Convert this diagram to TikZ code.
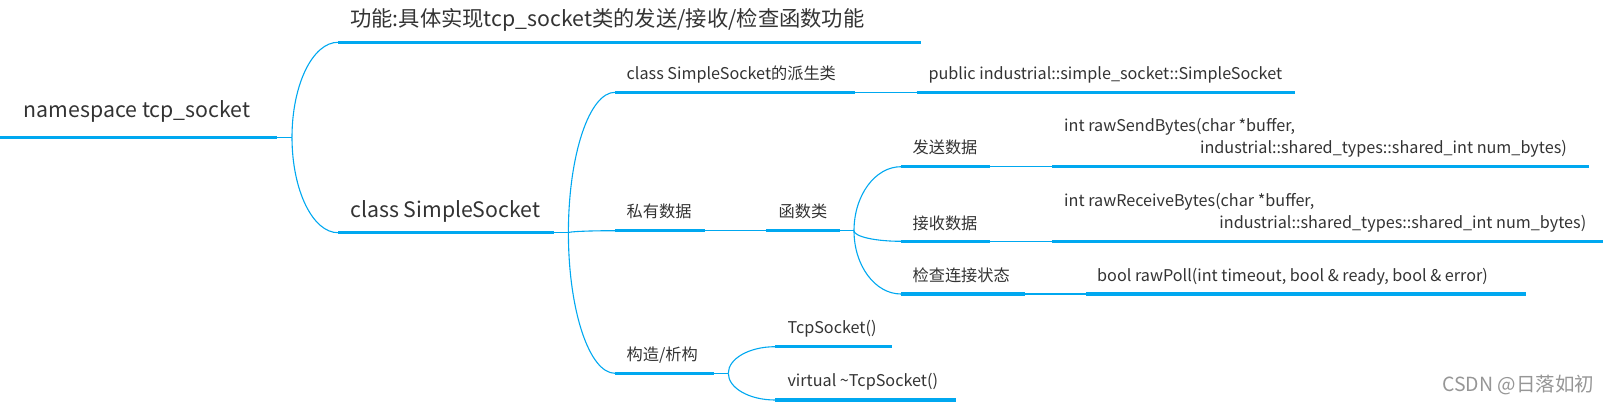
\documentclass[tikz,border=0pt]{standalone}
\usepackage{fontspec}
\setmainfont{Noto Sans CJK SC}
\usetikzlibrary{calc}
\definecolor{mblue}{RGB}{0,168,240}
\definecolor{tcol}{RGB}{51,51,51}
\definecolor{wmark}{RGB}{150,150,150}
\begin{document}
\begin{tikzpicture}[x=1pt,y=-1pt,
  ul/.style={line width=3.4pt, draw=mblue},
  conn/.style={line width=1.1pt, draw=mblue},
  bigtxt/.style={anchor=base west, inner sep=0pt, text=tcol, font=\fontsize{21.3}{24}\selectfont},
  smalltxt/.style={anchor=base west, inner sep=0pt, text=tcol, font=\fontsize{16.2}{19}\selectfont}]
\useasboundingbox (0,0) rectangle (1609,404);

% underline end points
\coordinate (ns-l) at (0,137.3);      \coordinate (ns-r) at (277,137.3);
\coordinate (fn-l) at (338,42.3);     \coordinate (fn-r) at (920.7,42.3);
\coordinate (cs-l) at (338,232.7);    \coordinate (cs-r) at (553.8,232.7);
\coordinate (der-l) at (615,92.3);    \coordinate (der-r) at (855,92.3);
\coordinate (pub-l) at (916.6,92.3);  \coordinate (pub-r) at (1295,92.3);
\coordinate (priv-l) at (615,230.7);  \coordinate (priv-r) at (705,230.7);
\coordinate (fun-l) at (766,230.7);   \coordinate (fun-r) at (839.7,230.7);
\coordinate (send-l) at (901,166.7);  \coordinate (send-r) at (990,166.7);
\coordinate (rsend-l) at (1052,166.7);\coordinate (rsend-r) at (1589,166.7);
\coordinate (recv-l) at (901,241.3);  \coordinate (recv-r) at (990,241.3);
\coordinate (rrecv-l) at (1052,241.3);\coordinate (rrecv-r) at (1602.7,241.3);
\coordinate (chk-l) at (901,294);     \coordinate (chk-r) at (1024.6,294);
\coordinate (poll-l) at (1085.8,294); \coordinate (poll-r) at (1526,294);
\coordinate (ctor-l) at (615,373.3);  \coordinate (ctor-r) at (713.8,373.3);
\coordinate (tcp-l) at (775,346.7);   \coordinate (tcp-r) at (891.7,346.7);
\coordinate (vtcp-l) at (775,400);    \coordinate (vtcp-r) at (955.7,400);

% junctions
\coordinate (j0) at (292,137.3);
\coordinate (j1) at (568.4,232.7);
\coordinate (j2) at (854,230.7);
\coordinate (j3) at (728.3,373.3);

% texts
\node[bigtxt] (ns) at (23.7,117) {namespace tcp\_socket};
\node[bigtxt] (fn) at (350,27) {功能:具体实现tcp\_socket类的发送/接收/检查函数功能};
\node[bigtxt] (cs) at (350,217.3) {class SimpleSocket};
\node[smalltxt] (der) at (626.5,79.3) {class SimpleSocket的派生类};
\node[smalltxt] (pub) at (928.3,79.3) {public industrial::simple\_socket::SimpleSocket};
\node[smalltxt] (priv) at (626.5,217) {私有数据};
\node[smalltxt] (fun) at (778.5,217) {函数类};
\node[smalltxt] (send) at (912.4,153) {发送数据};
\node[smalltxt] (rsend1) at (1064,131.5) {int rawSendBytes(char *buffer,};
\node[smalltxt, anchor=base east] (rsend2) at (1567,153.3) {industrial::shared\_types::shared\_int num\_bytes)};
\node[smalltxt] (recv) at (912.4,229) {接收数据};
\node[smalltxt] (rrecv1) at (1064,206) {int rawReceiveBytes(char *buffer,};
\node[smalltxt, anchor=base east] (rrecv2) at (1586.4,228.3) {industrial::shared\_types::shared\_int num\_bytes)};
\node[smalltxt] (chk) at (912.4,281) {检查连接状态};
\node[smalltxt] (poll) at (1097,281.7) {bool rawPoll(int timeout, bool \& ready, bool \& error)};
\node[smalltxt] (ctor) at (626.5,360) {构造/析构};
\node[smalltxt] (tcp) at (787.3,333.3) {TcpSocket()};
\node[smalltxt] (vtcp) at (787.3,386.7) {virtual \textasciitilde TcpSocket()};
\node[anchor=base west, inner sep=0pt, text=wmark, font=\fontsize{19.5}{22}\selectfont] (wm) at (1442,391.7) {CSDN @日落如初};

% underlines
\foreach \n in {ns,fn,cs,der,pub,priv,fun,send,rsend,recv,rrecv,chk,poll,ctor,tcp,vtcp}
  \draw[ul] (\n-l) -- (\n-r);

% straight connectors
\draw[conn] (ns-r) -- (j0);
\draw[conn] (cs-r) -- (j1);
\draw[conn] (fun-r) -- (j2);
\draw[conn] (ctor-r) -- (j3);
\draw[conn] (der-r) -- (pub-l);
\draw[conn] (priv-r) -- (fun-l);
\draw[conn] (send-r) -- (rsend-l);
\draw[conn] (recv-r) -- (rrecv-l);
\draw[conn] (chk-r) -- (poll-l);

% curved (quarter-ellipse) connectors
\foreach \j/\c in {j0/fn-l, j0/cs-l, j1/der-l, j1/priv-l, j1/ctor-l,
                   j2/send-l, j2/recv-l, j2/chk-l, j3/tcp-l, j3/vtcp-l}
  \draw[conn] (\j) .. controls ($(\j)!0.552!(\j |- \c)$) and ($(\c)!0.552!(\j |- \c)$) .. (\c);
\end{tikzpicture}
\end{document}
